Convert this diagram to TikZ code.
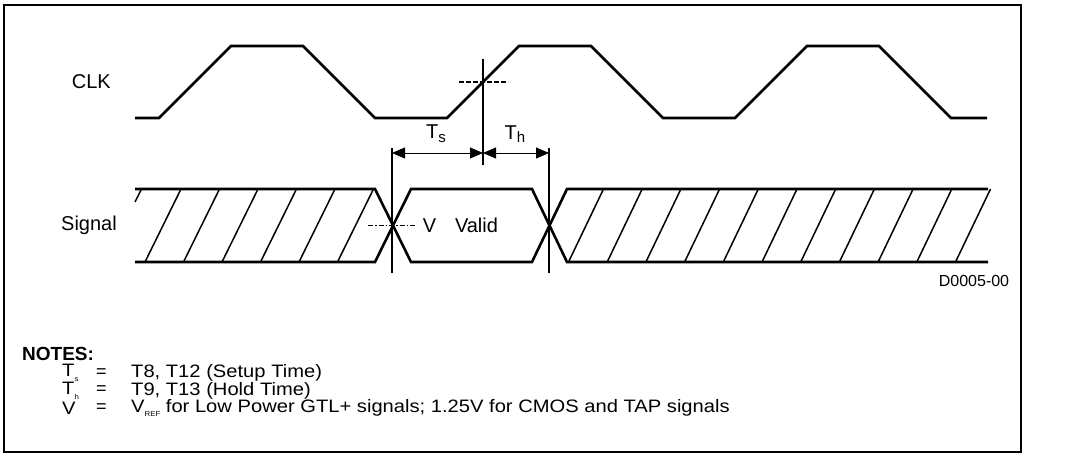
\documentclass[tikz,border=0pt]{standalone}
\usepackage{fontspec}
\setmainfont{Liberation Sans}
\usetikzlibrary{arrows.meta}
\newcommand{\wideT}[1]{\scalebox{1.12}[1]{#1}}
\begin{document}
\begin{tikzpicture}[x=1pt,y=-1pt,
  wave/.style={line width=2.6pt, line join=miter},
  hatch/.style={line width=1.5pt},
  refline/.style={line width=1.5pt},
  dimline/.style={line width=0.8pt, {Triangle[length=13pt,width=11pt]}-{Triangle[length=13pt,width=11pt]}},
  dashref/.style={line width=1.5pt, dash pattern=on 5pt off 2pt},
  dashdot/.style={line width=1.5pt, dash pattern=on 5pt off 2pt on 1.5pt off 2pt},
  big/.style={font=\fontsize{20}{24}\selectfont, inner sep=0pt},
  note/.style={font=\fontsize{18}{21}\selectfont, inner sep=0pt, anchor=west},
  small/.style={font=\fontsize{16}{19}\selectfont, inner sep=0pt}]
\useasboundingbox (0,0) rectangle (1066,470);
\draw[line width=2pt] (4,5) rectangle (1021,452);

% labels
\node[big, anchor=east] (clk) at (111,82) {CLK};
\node[big, anchor=east] (sig) at (117,225.5) {Signal};

% clock waveform
\draw[wave] (135,118) -- (159,118) -- (231,46) -- (303,46) -- (375,118) -- (447,118)
  -- (519,46) -- (591,46) -- (663,118) -- (735,118) -- (807,46) -- (879,46)
  -- (951,118) -- (987,118);

% signal waveform
\draw[wave] (135,189) -- (375,189) -- (411,262) -- (532,262) -- (567,189) -- (988,189);
\draw[wave] (135,262) -- (375,262) -- (411,189) -- (532,189) -- (567,262) -- (988,262);

% hatching
\draw[hatch] (141.5,189) -- (135,202);
\foreach \k in {0,...,5} {
  \draw[hatch] ({145+38.5*\k},262) -- ({181+38.5*\k},189);
}
\foreach \k in {0,...,10} {
  \draw[hatch] ({568.5+38.7*\k},262) -- ({603.5+38.7*\k},189);
}

% reference coordinates
\coordinate (ctop) at (483,59);
\coordinate (cbot) at (483,165);
\coordinate (l1) at (392,148);
\coordinate (l2) at (392,273);
\coordinate (r1) at (549,148);
\coordinate (r2) at (549,273);
\coordinate (a1) at (392,153);
\coordinate (a2) at (483,153);
\coordinate (a3) at (549,153);
\coordinate (dl1) at (459,82);
\coordinate (dl2) at (508,82);
\coordinate (sl1) at (368,225.5);
\coordinate (sl2) at (417,225.5);

\draw[refline] (ctop) -- (cbot);
\draw[refline] (l1) -- (l2);
\draw[refline] (r1) -- (r2);
\draw[dashref] (dl1) -- (dl2);
\draw[dashdot] (sl1) -- (sl2);

\draw[dimline] (a1) -- (a2);
\draw[dimline] (a2) -- (a3);

\node[big] (ts) at (436,134) {T\raisebox{-0.35ex}{\fontsize{15}{15}\selectfont s}};
\node[big] (th) at (515,134) {T\raisebox{-0.35ex}{\fontsize{15}{15}\selectfont h}};

\node[big] (vv) at (429.5,225.5) {V};
\node[big] (valid) at (476.5,225.5) {Valid};

\node[small] (did) at (974,281) {D0005-00};

% notes
\node[note, font=\fontsize{19}{22}\selectfont\bfseries] (notes) at (22,354) {NOTES:};
\node[note] (n1a) at (62,373) {\wideT{T\raisebox{-0.5ex}{\fontsize{7}{7}\selectfont s}}};
\node[note] (n1b) at (96,373) {=};
\node[note] (n1c) at (131,373) {\wideT{T8, T12 (Setup Time)}};
\node[note] (n2a) at (62,390.5) {\wideT{T\raisebox{-0.5ex}{\fontsize{7}{7}\selectfont h}}};
\node[note] (n2b) at (96,390.5) {=};
\node[note] (n2c) at (131,390.5) {\wideT{T9, T13 (Hold Time)}};
\node[note] (n3a) at (62,408) {\wideT{V}};
\node[note] (n3b) at (96,408) {=};
\node[note] (n3c) at (131,408) {\wideT{V\raisebox{-0.5ex}{\fontsize{7}{7}\selectfont REF} for Low Power GTL+ signals; 1.25V for CMOS and TAP signals}};
\end{tikzpicture}
\end{document}
